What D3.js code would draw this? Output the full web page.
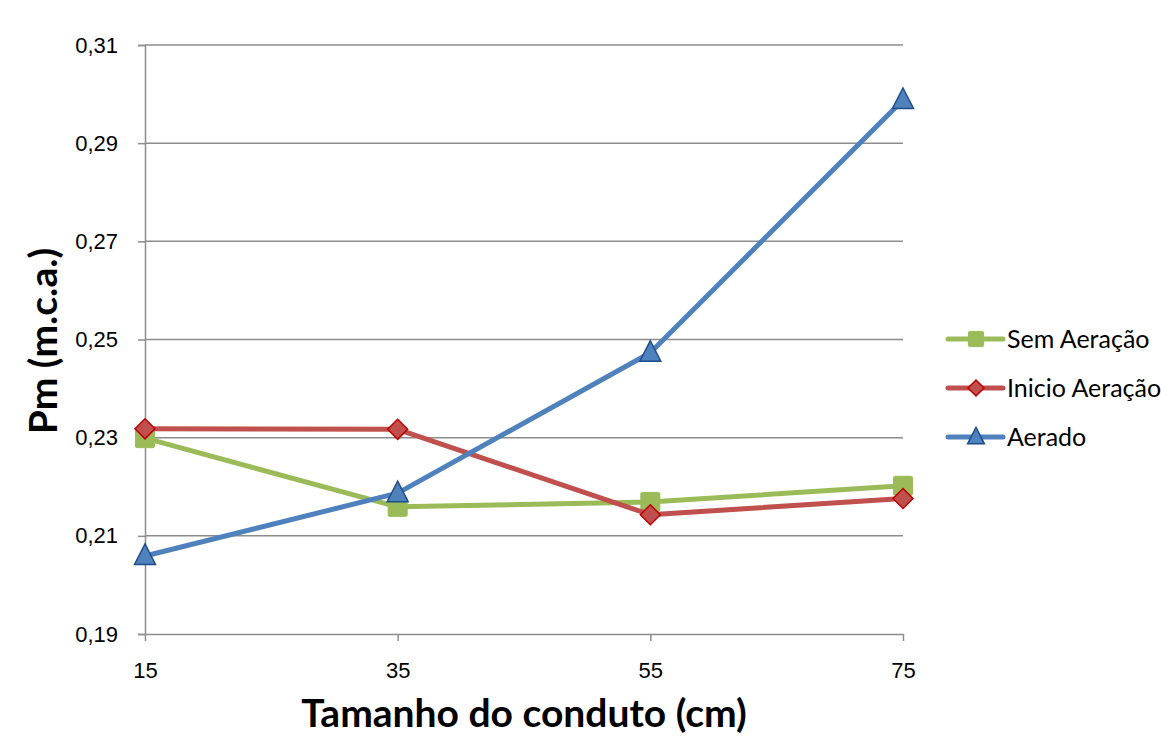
<!DOCTYPE html>
<html>
<head>
<meta charset="utf-8">
<script src="https://cdn.jsdelivr.net/npm/d3@7"></script>
<style>
  body { margin: 0; background: #fff; }
  svg { font-family: Lato, "Open Sans", sans-serif; }
</style>
</head>
<body>
<svg id="chart"></svg>
<script>
// data
const categories = ["15", "35", "55", "75"];
const semAeracao = [0.2299, 0.2159, 0.2169, 0.2202];
const inicioAeracao = [0.2318, 0.2317, 0.2143, 0.2176];
const aerado = [0.2059, 0.2187, 0.2473, 0.2988];
const yTicks = [0.19, 0.21, 0.23, 0.25, 0.27, 0.29, 0.31];

const seriesList = [
  {name: "Sem Aeração", values: semAeracao, color: "#9BBB59", stroke: "#9BBB59", marker: "square"},
  {name: "Inicio Aeração", values: inicioAeracao, color: "#C0504D", stroke: "#C00000", marker: "diamond"},
  {name: "Aerado", values: aerado, color: "#4F81BD", stroke: "#1F4E8C", marker: "triangle"}
];

const width = 1161, height = 737;
const margin = {left: 145, right: 258, top: 45, bottom: 103};
const innerW = width - margin.left - margin.right;
const innerH = height - margin.top - margin.bottom;

const svg = d3.select("#chart").attr("width", width).attr("height", height);

const x = d3.scalePoint().domain(categories).range([margin.left, margin.left + innerW]);
const y = d3.scaleLinear().domain([0.19, 0.31]).range([margin.top + innerH, margin.top]);

// gridlines
svg.append("g")
  .selectAll("line")
  .data(yTicks.slice(1))
  .join("line")
  .attr("x1", margin.left).attr("x2", margin.left + innerW)
  .attr("y1", d => y(d)).attr("y2", d => y(d))
  .attr("stroke", "#8c8c8c").attr("stroke-width", 1.5);

// y axis
const fmt = d => d3.format(".2f")(d).replace(".", ",");
const yAxis = svg.append("g")
  .attr("transform", `translate(${margin.left},0)`)
  .call(d3.axisLeft(y).tickValues(yTicks).tickFormat(fmt).tickSize(7).tickPadding(20));
yAxis.select(".domain").attr("stroke", "#8c8c8c").attr("stroke-width", 1.5);
yAxis.selectAll(".tick line").attr("stroke", "#8c8c8c").attr("stroke-width", 1.5);
yAxis.selectAll(".tick text").attr("font-size", "22px").attr("fill", "#000");

// x axis
const xAxis = svg.append("g")
  .attr("transform", `translate(0,${margin.top + innerH})`)
  .call(d3.axisBottom(x).tickSize(7).tickSizeOuter(0).tickPadding(21));
xAxis.select(".domain").attr("stroke", "#8c8c8c").attr("stroke-width", 1.5);
xAxis.selectAll(".tick line").attr("stroke", "#8c8c8c").attr("stroke-width", 1.5);
xAxis.selectAll(".tick text").attr("font-size", "22px").attr("fill", "#000");

// axis titles
svg.append("text")
  .attr("x", margin.left + innerW / 2).attr("y", 727)
  .attr("text-anchor", "middle")
  .attr("font-size", "39px").attr("font-weight", "bold")
  .text("Tamanho do conduto (cm)");

svg.append("text")
  .attr("transform", `translate(57,341) rotate(-90)`)
  .attr("text-anchor", "middle")
  .attr("font-size", "39px").attr("font-weight", "bold")
  .text("Pm (m.c.a.)");

// markers
function drawMarker(g, type, cx, cy, s, k) {
  if (type === "square") {
    const h = 9.5 * k;
    g.append("rect")
      .attr("x", cx - h).attr("y", cy - h).attr("width", 2 * h).attr("height", 2 * h)
      .attr("rx", 1.5)
      .attr("fill", s.color).attr("stroke", s.color);
  } else if (type === "diamond") {
    const r = 10 * k;
    g.append("path")
      .attr("d", `M${cx},${cy - r}L${cx + r},${cy}L${cx},${cy + r}L${cx - r},${cy}Z`)
      .attr("fill", s.color).attr("stroke", s.stroke).attr("stroke-width", 1.5);
  } else {
    const w = 10.5 * k, t = 12 * k, b = 8.5 * k;
    g.append("path")
      .attr("d", `M${cx},${cy - t}L${cx + w},${cy + b}L${cx - w},${cy + b}Z`)
      .attr("fill", s.color).attr("stroke", s.stroke).attr("stroke-width", 1.5);
  }
}

const line = d3.line()
  .x((d, i) => x(categories[i]))
  .y(d => y(d));

seriesList.forEach(s => {
  const g = svg.append("g");
  g.append("path")
    .datum(s.values)
    .attr("fill", "none")
    .attr("stroke", s.color)
    .attr("stroke-width", 5)
    .attr("stroke-linejoin", "round")
    .attr("d", line);
  s.values.forEach((v, i) => drawMarker(g, s.marker, x(categories[i]), y(v), s, 1));
});

// legend
const legend = svg.append("g").attr("transform", "translate(948,339)");
seriesList.forEach((s, i) => {
  const row = legend.append("g").attr("transform", `translate(0,${i * 49})`);
  row.append("line")
    .attr("x1", 0).attr("x2", 55).attr("y1", 0).attr("y2", 0)
    .attr("stroke", s.color).attr("stroke-width", 5).attr("stroke-linecap", "round");
  drawMarker(row, s.marker, 28, 0, s, 0.8);
  row.append("text")
    .attr("x", 59).attr("y", 9)
    .attr("font-size", "25px").attr("fill", "#000")
    .text(s.name);
});
</script>
</body>
</html>
